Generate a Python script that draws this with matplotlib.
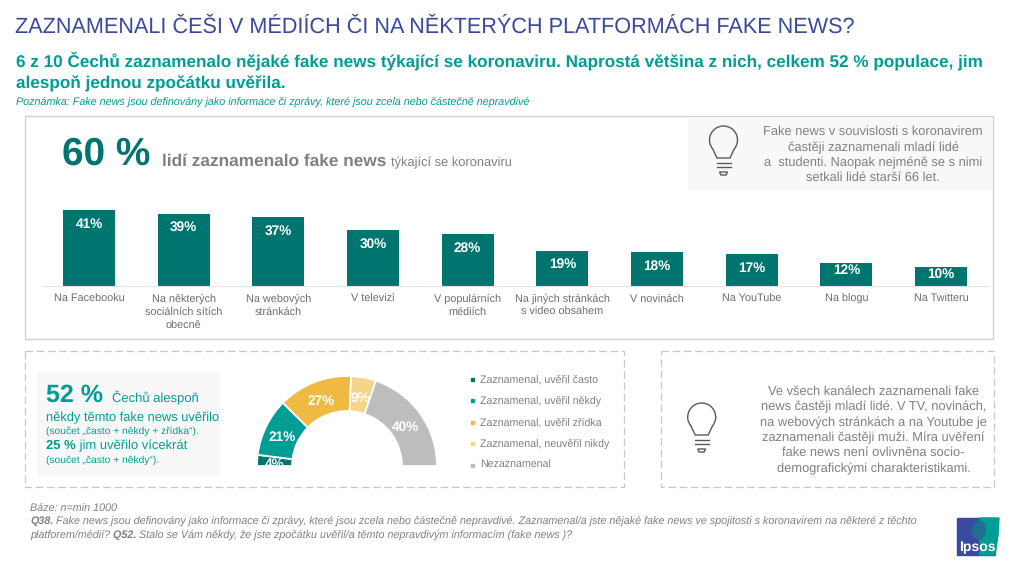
import math
import matplotlib
matplotlib.use("Agg")
import matplotlib.pyplot as plt
from matplotlib.patches import Rectangle, Arc, Polygon, Ellipse

plt.rcParams["font.family"] = ["Liberation Sans", "DejaVu Sans"]
plt.rcParams["text.hinting"] = "no_hinting"

bar_labels = ["Na Facebooku", "Na některých\nsociálních sítích\nobecně", "Na webových\nstránkách", "V televizi",
              "V populárních\nmédiích", "Na jiných stránkách\ns video obsahem", "V novinách", "Na YouTube",
              "Na blogu", "Na Twitteru"]
bar_values = [41, 39, 37, 30, 28, 19, 18, 17, 12, 10]

donut_labels = ["Zaznamenal, uvěřil často", "Zaznamenal, uvěřil někdy", "Zaznamenal, uvěřil zřídka",
                "Zaznamenal, neuvěřil nikdy", "Nezaznamenal"]
donut_values = [4, 21, 27, 9, 40]
donut_colors = ["#00756f", "#009d94", "#f0b941", "#f6d488", "#bdbdbd"]

BLUE = "#3a4a9f"
TEAL = "#009d94"
DARK_TEAL = "#00756f"
GREY = "#808080"

W, H = 1024, 565
fig = plt.figure(figsize=(W / 100, H / 100), dpi=100)
bg = fig.add_axes([0, 0, 1, 1])
bg.set_xlim(0, W)
bg.set_ylim(H, 0)
bg.axis("off")


def txt(x, y, s, size, color=GREY, ha="left", **kw):
	# size given in pixels, dpi is 100
	return bg.text(x, y, s, fontsize=size * 0.72, color=color, ha=ha, va="center", **kw)


def inline(x, y, pieces):
	"""Draw pieces of text one after the other on one line"""
	r = fig.canvas.get_renderer()
	for s, size, color, kw in pieces:
		t = bg.text(x, y, s, fontsize=size * 0.72, color=color, ha="left", va="baseline", **kw)
		x = bg.transData.inverted().transform(t.get_window_extent(r).corners()[2])[0]


def bulb(cx, cy):
	c = "#5a5a5a"
	lw = 1.0
	bg.add_patch(Arc((cx, cy), 28, 28, angle=0, theta1=140, theta2=40, color=c, lw=lw))
	bg.plot([cx - 10.7, cx - 6.5, cx + 6.5, cx + 10.7], [cy + 9, cy + 18, cy + 18, cy + 9], color=c, lw=lw)
	bg.plot([cx - 7, cx + 7], [cy + 23, cy + 23], color=c, lw=lw)
	bg.plot([cx - 7, cx + 7], [cy + 27, cy + 27], color=c, lw=lw)
	bg.add_patch(Polygon([(cx - 4, cy + 32), (cx + 4, cy + 32), (cx + 2.5, cy + 35), (cx - 2.5, cy + 35)], fc="none", ec=c, lw=lw))


# header
txt(15, 27, "ZAZNAMENALI ČEŠI V MÉDIÍCH ČI NA NĚKTERÝCH PLATFORMÁCH FAKE NEWS?", 21.6, BLUE)
txt(16, 61, "6 z 10 Čechů zaznamenalo nějaké fake news týkající se koronaviru. Naprostá většina z nich, celkem 52 % populace, jim", 17.1, TEAL, fontweight="bold")
txt(16, 84, "alespoň jednou zpočátku uvěřila.", 17.1, TEAL, fontweight="bold")
txt(16, 102, "Poznámka: Fake news jsou definovány jako informace či zprávy, které jsou zcela nebo částečně nepravdivé", 10.7, TEAL, style="italic")

# panels
bg.add_patch(Rectangle((25, 116), 968, 223, fc="white", ec="#cfcfcf", lw=0.9))
bg.add_patch(Rectangle((688, 118), 304, 72, fc="#f8f8f8", ec="none"))
bg.add_patch(Rectangle((25, 351), 599, 136, fc="white", ec="#c8c8c8", lw=0.9, ls=(0, (6, 3))))
bg.add_patch(Rectangle((661, 351), 333, 136, fc="white", ec="#c8c8c8", lw=0.9, ls=(0, (6, 3))))
bg.add_patch(Rectangle((37, 372), 183, 105, fc="#f8f8f8", ec="none"))

inline(62, 165, [("60 %", 38.7, DARK_TEAL, {"fontweight": "bold"})])
inline(162, 166, [("lidí zaznamenalo fake news ", 17.2, GREY, {"fontweight": "bold"}), ("týkající se koronaviru", 12.9, GREY, {})])

for y, s in zip([132, 148, 163, 178], ["Fake news v souvislosti s koronavirem", "častěji zaznamenali mladí lidé",
                                       "a  studenti. Naopak nejméně se s nimi", "setkali lidé starší 66 let."]):
	txt(873, y, s, 12.9, ha="center")
bulb(723.5, 140)

# bars
ax = fig.add_axes([41.6 / W, 1 - 285.5 / H, 946.7 / W, 75.5 / H])
ax.bar(range(len(bar_values)), bar_values, width=0.55, color=DARK_TEAL)
ax.set_xlim(-0.5, len(bar_values) - 0.5)
ax.set_ylim(0, max(bar_values))
ax.set_xticks(range(len(bar_labels)))
ax.set_xticklabels(bar_labels, fontsize=7.8, color="#6e6e6e", linespacing=1.35)
ax.tick_params(axis="x", length=0, pad=6)
ax.set_yticks([])
ax.patch.set_alpha(0)
for s in ax.spines.values():
	s.set_visible(False)
ax.spines["bottom"].set_visible(True)
ax.spines["bottom"].set_color("#e2e2e2")
for i, v in enumerate(bar_values):
	off = -10 if v >= 17 else -5
	ax.annotate(f"{v}%", (i, v), xytext=(0, off), textcoords="offset points", ha="center", va="center",
	            color="white", fontweight="bold", fontsize=9.8)

# left text of the lower panel
inline(46, 402, [("52 %", 25, TEAL, {"fontweight": "bold"})])
inline(112, 402, [("Čechů alespoň", 13, TEAL, {})])
inline(46, 421, [("někdy těmto fake news uvěřilo", 12.95, TEAL, {})])
inline(46, 434, [("(součet „často + někdy + zřídka“).", 10.2, TEAL, {})])
inline(46, 449, [("25 %", 13, TEAL, {"fontweight": "bold"}), (" jim uvěřilo vícekrát", 13, TEAL, {})])
inline(46, 463, [("(součet „často + někdy“).", 10.2, TEAL, {})])

# half donut, the hidden half is as big as the sum of the values
dax = fig.add_axes([257 / W, 1 - 466 / H, 180 / W, 90 / H])
hidden = sum(donut_values)
wedges, _ = dax.pie(donut_values + [hidden], colors=donut_colors + ["none"], startangle=180, counterclock=False,
                    radius=1, wedgeprops={"width": 0.39, "edgecolor": "white", "linewidth": 1.3})
dax.set_xlim(-1, 1)
dax.set_ylim(0, 1)
wedges[-1].set_visible(False)
for w, v in zip(wedges, donut_values):
	a = math.radians((w.theta1 + w.theta2) / 2)
	dax.text(0.8 * math.cos(a), 0.8 * math.sin(a) - 0.03, f"{v}%", color="white", fontweight="bold", fontsize=9.8,
	         ha="center", va="center", clip_on=True)

# legend of the donut
for y, s, c in zip([379.5, 400.5, 422.5, 443.5, 465.5], donut_labels, donut_colors):
	bg.add_patch(Rectangle((471, y - 1.5), 3, 3, color=c))
	txt(480, y, s, 10.65)

# right panel
for y, s in zip([392, 407, 423, 438, 453, 469],
                ["Ve všech kanálech zaznamenali fake", "news častěji mladí lidé. V TV, novinách,",
                 "na webových stránkách a na Youtube je", "zaznamenali častěji muži. Míra uvěření",
                 "fake news není ovlivněna socio-", "demografickými charakteristikami."]):
	txt(873.5, y, s, 12.9, ha="center")
bulb(701.7, 417)

# footnotes
it = {"style": "italic"}
itb = {"style": "italic", "fontweight": "bold"}
inline(30, 511, [("Báze: n=min 1000", 10.7, GREY, it)])
inline(30, 524, [("Q38.", 10.7, GREY, itb), (" Fake news jsou definovány jako informace či zprávy, které jsou zcela nebo částečně nepravdivé. Zaznamenal/a jste nějaké fake news ve spojitosti s koronavirem na některé z těchto", 10.7, GREY, it)])
inline(30, 538, [("platforem/médií?", 10.7, GREY, it), (" Q52.", 10.7, GREY, itb), (" Stalo se Vám někdy, že jste zpočátku uvěřil/a těmto nepravdivým informacím (fake news )?", 10.7, GREY, it)])

# logo
bg.add_patch(Rectangle((957, 518), 38, 37, color=BLUE, zorder=3))
bg.add_patch(Polygon([(980, 518), (999, 518), (998, 535), (995, 555), (980, 555)], color=TEAL, zorder=4))
bg.add_patch(Ellipse((979, 530), 13, 18, color="#1f6f90", zorder=5))
txt(977, 547, "Ipsos", 14, "white", ha="center", fontweight="bold", zorder=6)

fig.savefig("out.png", dpi=100)
